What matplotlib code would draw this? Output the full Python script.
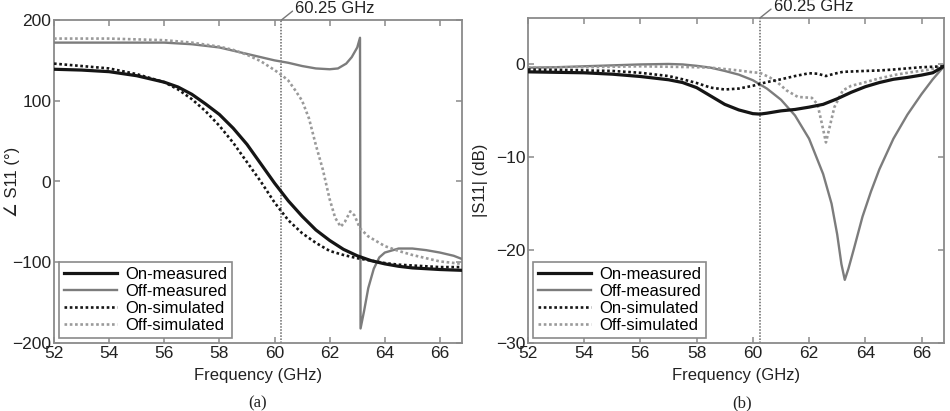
import matplotlib
matplotlib.use("Agg")
import matplotlib.pyplot as plt

plt.rcParams['font.family'] = ['Liberation Sans', 'DejaVu Sans']

# ---------------- data: panel (a) phase of S11 (deg) ----------------
on_meas_phase_f = [52, 53, 54, 55, 56, 56.5, 57, 57.5, 58, 58.5, 59, 59.5, 60, 60.5, 61, 61.5,
                   62, 62.5, 63, 63.5, 64, 64.5, 65, 65.5, 66, 66.8]
on_meas_phase = [139, 138, 136, 131, 123, 117, 108, 96, 83, 66, 46, 22, -2, -24, -43, -60,
                 -73, -84, -92, -98, -102, -105, -107, -108, -109, -110]

on_sim_phase_f = [52, 53, 54, 55, 56, 56.5, 57, 57.5, 58, 58.5, 59, 59.5, 60, 60.5, 61, 61.5,
                  62, 62.5, 63, 63.5, 64, 64.5, 65, 66, 66.8]
on_sim_phase = [146, 143, 140, 133, 123, 114, 102, 87, 69, 48, 24, 0, -26, -48, -64, -76,
                -86, -91, -95, -98, -101, -103, -104, -106, -106]

off_meas_phase_f = [52, 54, 55, 56, 57, 58, 59, 59.5, 60, 60.5, 61, 61.5, 62, 62.3, 62.6, 62.8,
                    63.0, 63.1, 63.12, 63.25, 63.4, 63.6, 63.8, 64, 64.5, 65, 65.5, 66, 66.5, 66.8]
off_meas_phase = [172, 172, 172, 172, 170, 166, 158, 154, 150, 147, 143, 140, 139, 140, 146, 154,
                  166, 178, -182, -160, -132, -108, -94, -88, -83, -83, -85, -88, -92, -96]

off_sim_phase_f = [52, 54, 55, 56, 57, 58, 58.5, 59, 59.5, 60, 60.25, 60.5, 60.75, 61, 61.25, 61.5,
                   61.75, 62, 62.2, 62.4, 62.55, 62.75, 62.9, 63.1, 63.4, 63.7, 64, 64.5, 65, 65.5,
                   66, 66.8]
off_sim_phase = [177, 177, 176, 175, 172, 167, 163, 157, 149, 138, 132, 125, 113, 100, 78, 45,
                 15, -22, -45, -56, -50, -37, -42, -58, -68, -74, -80, -86, -91, -95,
                 -99, -102]

# ---------------- data: panel (b) |S11| (dB) ----------------
on_meas_mag_f = [52, 53, 54, 55, 56, 57, 57.5, 58, 58.5, 59, 59.5, 60, 60.25, 60.5, 61, 61.5,
                 62, 62.5, 63, 63.5, 64, 64.5, 65, 65.5, 66, 66.4, 66.8]
on_meas_mag = [-0.8, -0.85, -0.9, -1.05, -1.3, -1.65, -1.95, -2.5, -3.4, -4.3, -4.9, -5.3, -5.35,
               -5.25, -5.0, -4.85, -4.6, -4.3, -3.7, -3.0, -2.4, -1.95, -1.6, -1.4, -1.15, -0.9, -0.2]

on_sim_mag_f = [52, 53, 54, 55, 56, 57, 57.5, 58, 58.5, 59, 59.5, 60, 60.25, 60.5, 61, 61.5,
                62, 62.3, 62.6, 62.9, 63.2, 64, 64.5, 65, 65.6, 66, 66.8]
on_sim_mag = [-0.55, -0.6, -0.65, -0.7, -0.9, -1.25, -1.6, -2.0, -2.5, -2.7, -2.6, -2.3, -2.1,
              -1.9, -1.6, -1.25, -0.95, -1.0, -1.25, -1.0, -0.8, -0.7, -0.65, -0.55, -0.4, -0.3, -0.2]

off_meas_mag_f = [52, 53, 54, 55, 56, 57, 57.5, 58, 58.5, 59, 59.5, 60, 60.5, 61, 61.5, 62,
                  62.5, 62.8, 63.0, 63.15, 63.27, 63.4, 63.6, 63.9, 64.2, 64.5, 65, 65.5, 66,
                  66.4, 66.8]
off_meas_mag = [-0.35, -0.3, -0.2, -0.1, 0.0, 0.05, 0.0, -0.15, -0.35, -0.7, -1.1, -1.7, -2.6,
                -3.8, -5.5, -8.0, -11.8, -15.0, -18.3, -21.5, -23.2, -22.0, -19.8, -16.4, -13.7,
                -11.3, -8.0, -5.4, -3.2, -1.6, -0.2]

off_sim_mag_f = [52, 54, 56, 58, 58.5, 59, 59.5, 60, 60.25, 60.6, 60.9, 61.2, 61.6, 62.1, 62.3,
                 62.45, 62.6, 62.75, 62.9, 63.0, 63.2, 63.5, 63.9, 64.5, 65.1, 65.6, 66.2, 66.8]
off_sim_mag = [-0.35, -0.3, -0.2, -0.3, -0.35, -0.5, -0.65, -0.85, -0.9, -1.4, -2.0, -2.8, -3.5,
               -3.6, -4.3, -6.3, -8.4, -6.5, -4.6, -4.0, -2.8, -2.3, -2.0, -1.5, -1.1, -0.85,
               -0.6, -0.2]

marker_freq = 60.25
labels = ["On-measured", "Off-measured", "On-simulated", "Off-simulated"]

# ---------------- styling ----------------
c_black = "#151515"
c_gray = "#7c7c7c"
c_gray_dot = "#9a9a9a"
frame = "#8a8a8a"
txt = "#222222"
tick_fs = 12.5

fig = plt.figure(figsize=(9.5, 4.11), dpi=100)
axa = fig.add_axes([54/950, 68/411, 408/950, 323/411])
axb = fig.add_axes([528/950, 68/411, 416/950, 325/411])


def draw(ax, series):
    (f1, y1), (f2, y2), (f3, y3), (f4, y4) = series
    ax.plot(f1, y1, color=c_black, lw=2.3, ls='-', label=labels[0], zorder=4)
    ax.plot(f2, y2, color=c_gray, lw=1.7, ls='-', label=labels[1], zorder=3)
    ax.plot(f3, y3, color=c_black, lw=1.9, ls=(0, (1, 1)), label=labels[2], zorder=4)
    ax.plot(f4, y4, color=c_gray_dot, lw=1.9, ls=(0, (1, 1)), label=labels[3], zorder=3)
    ax.axvline(marker_freq, color="#666666", lw=1.1, ls=(0, (1, 1)), zorder=2)
    ax.set_xlim(52, 66.8)
    ax.set_xticks([52, 54, 56, 58, 60, 62, 64, 66])
    for s in ax.spines.values():
        s.set_color(frame)
        s.set_linewidth(1.3)
    ax.tick_params(direction='in', top=True, right=True, length=4, width=1.1,
                   color=frame, labelsize=tick_fs, pad=2, labelcolor=txt)
    leg = ax.legend(loc='lower left', fontsize=12, handlelength=3.2, handletextpad=0.45,
                    labelspacing=0.12, borderpad=0.3, fancybox=False, framealpha=1,
                    borderaxespad=0.3)
    leg.get_frame().set_edgecolor(frame)
    leg.get_frame().set_linewidth(1.2)
    ax.set_xlabel("Frequency (GHz)", fontsize=12, color=txt, labelpad=5)
    # 60.25 GHz annotation with slanted leader line
    ax.annotate("60.25 GHz", xy=(marker_freq, 1.0), xycoords=('data', 'axes fraction'),
                xytext=(10, 8), textcoords='offset points', fontsize=12, color=txt,
                va='center', ha='left',
                arrowprops=dict(arrowstyle='-', color="#777777", lw=1.0,
                                shrinkA=0, shrinkB=0, relpos=(0, 0.5)),
                annotation_clip=False)


draw(axa, [(on_meas_phase_f, on_meas_phase), (off_meas_phase_f, off_meas_phase),
           (on_sim_phase_f, on_sim_phase), (off_sim_phase_f, off_sim_phase)])
axa.set_ylim(-200, 200)
axa.set_yticks([-200, -100, 0, 100, 200])
axa.set_ylabel("\u2220 S11 (\u00b0)", fontsize=12, color=txt)
axa.yaxis.set_label_coords(-0.083, 0.5)

draw(axb, [(on_meas_mag_f, on_meas_mag), (off_meas_mag_f, off_meas_mag),
           (on_sim_mag_f, on_sim_mag), (off_sim_mag_f, off_sim_mag)])
axb.set_ylim(-30, 5)
axb.set_yticks([-30, -20, -10, 0])
axb.set_ylabel("|S11| (dB)", fontsize=12, color=txt)
axb.yaxis.set_label_coords(-0.095, 0.5)

fig.text(258/950, 1 - 403/411, "(a)", fontsize=12, family='Liberation Serif',
         ha='center', va='center', color=txt)
fig.text(742/950, 1 - 403/411, "(b)", fontsize=12, family='Liberation Serif',
         ha='center', va='center', color=txt)

fig.savefig("out.png", dpi=100)
